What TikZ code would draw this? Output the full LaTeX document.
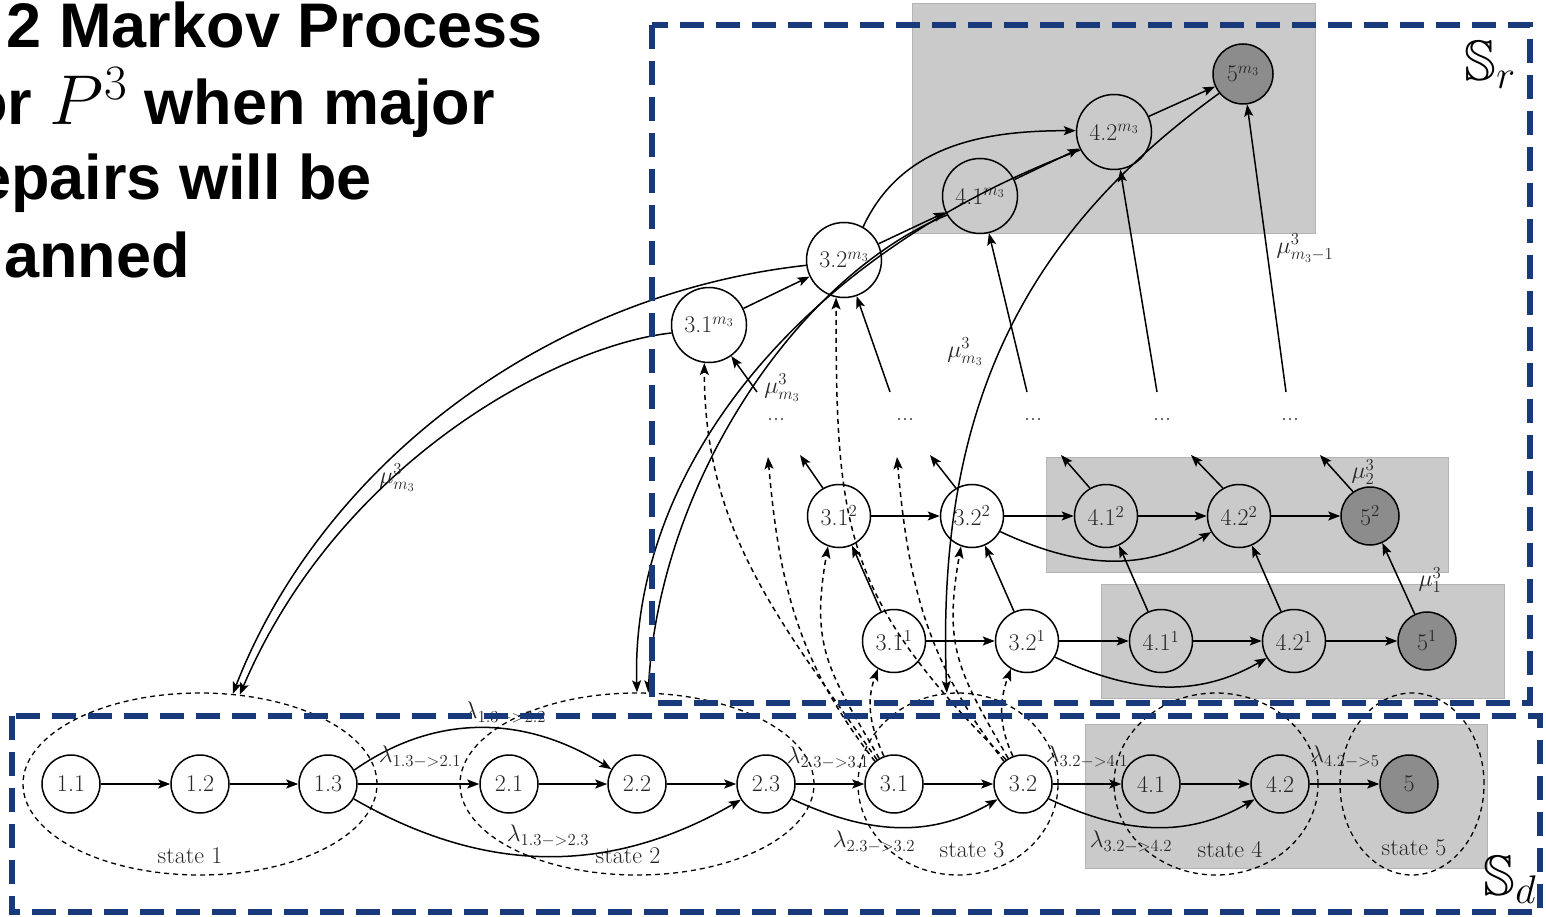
\RequirePackage{fix-cm}
\documentclass[tikz,border=0pt]{standalone}
\usepackage{amsmath,amssymb}
\usepackage{graphicx}
\usepackage{fontspec}
\newfontfamily\titlefont{Liberation Sans}
\usetikzlibrary{arrows.meta,shapes.geometric}
\definecolor{sblue}{RGB}{24,58,122}
\definecolor{rgray}{RGB}{202,202,202}
\definecolor{rborder}{RGB}{180,180,180}
\definecolor{dgray}{RGB}{140,140,140}
\newcommand{\mylabfont}{\fontsize{24}{26}\selectfont}
\newcommand{\mybigfont}{\fontsize{57}{60}\selectfont}
\newcommand{\mytitlefont}{\titlefont\bfseries\fontsize{63}{72}\selectfont}
\begin{document}
\begin{tikzpicture}[x=1pt,y=-1pt,
  every node/.style={font=\mylabfont, text=black!85},
  bn/.style={circle, draw, line width=1.5pt, minimum size=58pt, inner sep=0pt},
  mn/.style={circle, draw, line width=1.5pt, minimum size=63pt, inner sep=0pt},
  tn/.style={circle, draw, line width=1.5pt, minimum size=75pt, inner sep=0pt},
  dk/.style={fill=dgray},
  ar/.style={-{Stealth[length=12pt,width=9pt,inset=2.5pt]}, line width=1.5pt},
  dar/.style={ar, dash pattern=on 5pt off 4pt},
  stell/.style={ellipse, draw, line width=1.3pt, dash pattern=on 5pt off 4pt, inner sep=0pt, minimum height=182pt},
  gbox/.style={fill=rgray, draw=rborder, line width=0.8pt},
  bbox/.style={draw=sblue, line width=6pt, dash pattern=on 24pt off 12pt},
  lab/.style={inner sep=1pt},
  ttl/.style={anchor=base east, font=\mytitlefont, text=black, inner sep=0pt}
]
\useasboundingbox (0,0) rectangle (1546,917);

% title
\node[ttl] (t1) at (543,48) {2 Markov Process};
\node[ttl] (t2) at (495,125) {or \scalebox{1.12}{$P^3$} when major};
\node[ttl] (t3) at (372,200) {epairs will be};
\node[ttl] (t4) at (190,277) {anned};

% gray backgrounds
\path[gbox] (912,3) rectangle (1315,233);
\path[gbox] (1046,457) rectangle (1448,572);
\path[gbox] (1101,584) rectangle (1504,698);
\path[gbox] (1085,724) rectangle (1487,868);

% state ellipses
\node[stell, minimum width=354pt] (st1) at (200,784) {};
\node[stell, minimum width=354pt] (st2) at (637,784) {};
\node[stell, minimum width=200pt] (st3) at (958,784) {};
\node[stell, minimum width=204pt] (st4) at (1216,784) {};
\node[stell, minimum width=144pt] (st5) at (1412,784) {};
\node (sl1) at (190,856) {state 1};
\node (sl2) at (628,856) {state 2};
\node (sl3) at (972,850) {state 3};
\node (sl4) at (1230,850) {state 4};
\node (sl5) at (1414,848) {state 5};

% bottom row
\node[bn] (n11) at (71,784) {1.1};
\node[bn] (n12) at (200,784) {1.2};
\node[bn] (n13) at (328,784) {1.3};
\node[bn] (n21) at (509,784) {2.1};
\node[bn] (n22) at (637,784) {2.2};
\node[bn] (n23) at (766,784) {2.3};
\node[bn] (n31) at (894,784) {3.1};
\node[bn] (n32) at (1023,784) {3.2};
\node[bn] (n41) at (1151,784) {4.1};
\node[bn] (n42) at (1280,784) {4.2};
\node[bn,dk] (n5) at (1409,784) {5};

% row 1
\node[mn] (n311) at (894,641) {3.1$^1$};
\node[mn] (n321) at (1027,641) {3.2$^1$};
\node[mn] (n411) at (1161,641) {4.1$^1$};
\node[mn] (n421) at (1294,641) {4.2$^1$};
\node[bn,dk] (n51) at (1427,641) {5$^1$};
% row 2
\node[mn] (n312) at (839,516) {3.1$^2$};
\node[mn] (n322) at (972,516) {3.2$^2$};
\node[mn] (n412) at (1106,516) {4.1$^2$};
\node[mn] (n422) at (1239,516) {4.2$^2$};
\node[bn,dk] (n52) at (1370,516) {5$^2$};
% row m3
\node[tn] (n31m) at (709,325) {3.1$^{m_3}$};
\node[tn] (n32m) at (844,260) {3.2$^{m_3}$};
\node[tn] (n41m) at (980,196) {4.1$^{m_3}$};
\node[tn] (n42m) at (1114,132) {4.2$^{m_3}$};
\node[bn,dk, minimum size=60pt] (n5m) at (1243,74) {5$^{m_3}$};

% dots
\node (d1) at (776,420) {...};
\node (d2) at (905,420) {...};
\node (d3) at (1033,420) {...};
\node (d4) at (1162,420) {...};
\node (d5) at (1290,420) {...};

% free ends
\coordinate (u1) at (757,392);
\coordinate (u2) at (890,392);
\coordinate (u3) at (1027,392);
\coordinate (u4) at (1157,392);
\coordinate (u5) at (1286,392);
\coordinate (w1) at (800,455);
\coordinate (w2) at (930,455);
\coordinate (w3) at (1061,455);
\coordinate (w4) at (1191,455);
\coordinate (w5) at (1320,455);
\coordinate (v1) at (768,457);
\coordinate (v2) at (897,457);

% bottom edges
\draw[ar] (n11) -- (n12);
\draw[ar] (n12) -- (n13);
\draw[ar] (n13) -- (n21);
\draw[ar] (n21) -- (n22);
\draw[ar] (n22) -- (n23);
\draw[ar] (n23) -- (n31);
\draw[ar] (n31) -- (n32);
\draw[ar] (n32) -- (n41);
\draw[ar] (n41) -- (n42);
\draw[ar] (n42) -- (n5);
\draw[ar] (n13.28) to[out=35,in=148] (n22.150);
\draw[ar] (n13.-30) to[out=-30,in=-150] (n23.-148);
\draw[ar] (n23.-30) to[out=-25,in=-150] (n32.-149);
\draw[ar] (n32.-30) to[out=-25,in=-150] (n42.-149);

\node[lab] (l1) at (420,757) {$\lambda_{1.3->2.1}$};
\node[lab] (l2) at (505,713) {$\lambda_{1.3->2.2}$};
\node[lab] (l3) at (548,836) {$\lambda_{1.3->2.3}$};
\node[lab] (l4) at (828,758) {$\lambda_{2.3->3.1}$};
\node[lab] (l5) at (874,842) {$\lambda_{2.3->3.2}$};
\node[lab] (l6) at (1087,757) {$\lambda_{3.2->4.1}$};
\node[lab] (l7) at (1131,842) {$\lambda_{3.2->4.2}$};
\node[lab] (l8) at (1345,757) {$\lambda_{4.2->5}$};

% row 1 and row 2 edges
\draw[ar] (n311) -- (n321);
\draw[ar] (n321) -- (n411);
\draw[ar] (n411) -- (n421);
\draw[ar] (n421) -- (n51);
\draw[ar] (n321.-30) to[out=-25,in=-150] (n421.-148);
\draw[ar] (n312) -- (n322);
\draw[ar] (n322) -- (n412);
\draw[ar] (n412) -- (n422);
\draw[ar] (n422) -- (n52);
\draw[ar] (n322.-29) to[out=-25,in=-150] (n422.-150);
\draw[ar] (n311) -- (n312);
\draw[ar] (n321) -- (n322);
\draw[ar] (n411) -- (n412);
\draw[ar] (n421) -- (n422);
\draw[ar] (n51) -- (n52);
\draw[ar] (n312.120) -- (w1);
\draw[ar] (n322.120) -- (w2);
\draw[ar] (n412.120) -- (w3);
\draw[ar] (n422.120) -- (w4);
\draw[ar] (n52.125) -- (w5);

% up to m3 level
\draw[ar] (u1) -- (n31m);
\draw[ar] (u2) -- (n32m);
\draw[ar] (u3) -- (n41m);
\draw[ar] (u4) -- (n42m);
\draw[ar] (u5) -- (n5m);
\draw[ar] (n31m) -- (n32m);
\draw[ar] (n32m) -- (n41m);
\draw[ar] (n41m) -- (n42m);
\draw[ar] (n42m) -- (n5m);
\draw[ar] (n32m.60) to[out=65,in=180] (n42m.178);

% repair curves
\draw[ar] (n32m.188) .. controls (540,295) and (320,470) .. (st1.70);
\draw[ar] (n31m.192) .. controls (560,345) and (340,460) .. (st1.66);
\draw[ar] (n42m.208) .. controls (800,255) and (630,470) .. (st2.90);
\draw[ar] (n41m.210) .. controls (800,275) and (660,480) .. (st2.83);
\draw[ar] (n5m.219) .. controls (1030,230) and (935,400) .. (st3.97);

% dashed upgrades
\draw[dar] (n31.125) to[out=125,in=-90] (n31m.263);
\draw[dar] (n31.130) to[out=128,in=-85] (v1);
\draw[dar] (n31.120) to[out=120,in=-100,looseness=1.2] (n312.250);
\draw[dar] (n31.110) to[out=115,in=-110] (n311.240);
\draw[dar] (n32.125) to[out=135,in=-90,looseness=1.2] (n32m.258);
\draw[dar] (n32.130) to[out=128,in=-85] (v2);
\draw[dar] (n32.120) to[out=120,in=-100,looseness=1.2] (n322.250);
\draw[dar] (n32.110) to[out=115,in=-110] (n321.240);

% mu labels
\node[lab] (m1) at (397,478) {$\mu^3_{m_3}$};
\node[lab] (m2) at (782,388) {$\mu^3_{m_3}$};
\node[lab] (m3) at (965,352) {$\mu^3_{m_3}$};
\node[lab] (m4) at (1305,248) {$\mu^3_{m_3-1}$};
\node[lab] (m5) at (1363,472) {$\mu^3_2$};
\node[lab] (m6) at (1430,580) {$\mu^3_1$};

% blue regions
\draw[bbox] (652,25) rectangle (1530,703);
\draw[bbox] (12,716) rectangle (1540,912);
\node[font=\mybigfont, text=black] (sr) at (1490,65) {$\mathbb{S}_r$};
\node[font=\mybigfont, text=black] (sd) at (1510,880) {$\mathbb{S}_d$};
\end{tikzpicture}
\end{document}
